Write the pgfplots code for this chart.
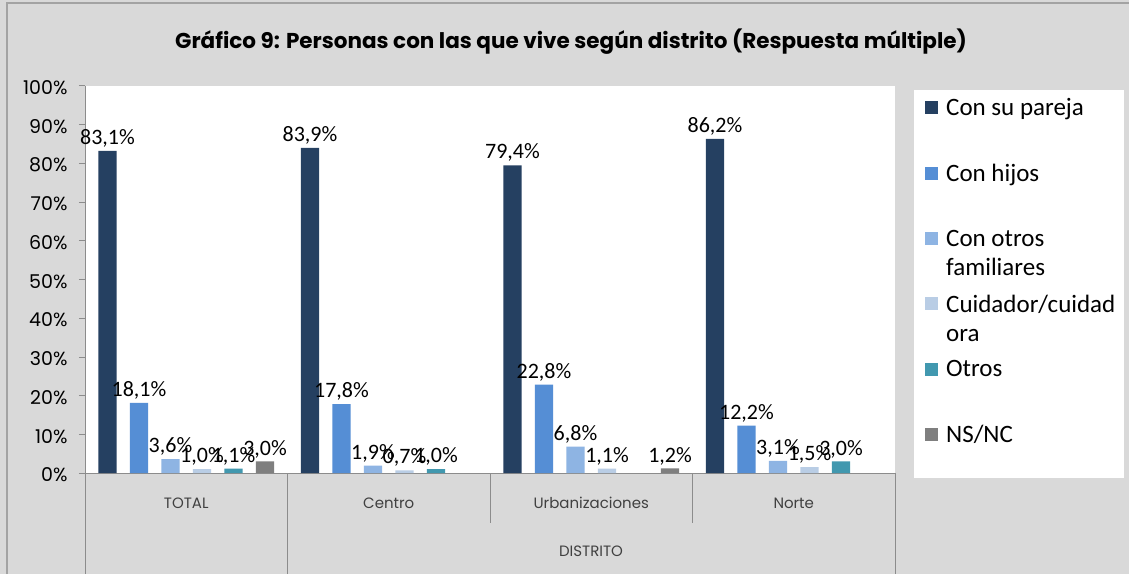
\documentclass[border=0pt]{standalone}
\usepackage{fontspec}
\setmainfont{Carlito}
\newfontfamily\gothic{Poppins}
\usepackage{pgfplots}
\pgfplotsset{compat=1.18}

\definecolor{cPareja}{HTML}{254061}
\definecolor{cHijos}{HTML}{558ED5}
\definecolor{cOtrosFam}{HTML}{8EB4E3}
\definecolor{cCuid}{HTML}{B9CDE5}
\definecolor{cOtros}{HTML}{4198AF}
\definecolor{cNSNC}{HTML}{7F7F7F}
\definecolor{bgGray}{HTML}{D9D9D9}
\definecolor{lnGray}{HTML}{8C8C8C}
\definecolor{txGray}{HTML}{404040}

% legend swatch: small square sitting on the baseline
\pgfplotsset{sq/.style={legend image code/.code={\fill[##1] (0pt,-6pt) rectangle (13pt,7pt);}}}
\newcommand{\legtxt}[1]{\parbox[t]{185pt}{#1}}

\begin{document}
\begin{tikzpicture}[x=1pt,y=1pt]
\useasboundingbox (0,0) rectangle (1129,-574);
\fill[bgGray] (0,0) rectangle (1129,-574);
\draw[lnGray!80, line width=1.2pt] (7,-574) -- (7,-3) -- (1129,-3);
\fill[white] (914,-90) rectangle (1124,-478);
\node[font=\gothic\bfseries\fontsize{21.5}{25}\selectfont] at (571,-42)
  {Gráfico 9: Personas con las que vive según distrito (Respuesta múltiple)};

\begin{axis}[
  at={(85pt,-473pt)}, anchor=south west,
  scale only axis, width=810pt, height=387.5pt,
  xmin=-0.5, xmax=3.5, ymin=0, ymax=100,
  axis background/.style={fill=white},
  axis x line*=bottom, axis y line*=left,
  axis line style={lnGray},
  clip=false,
  ytick={0,10,...,100},
  yticklabel={\pgfmathprintnumber{\tick}\%},
  yticklabel style={font=\gothic\fontsize{19}{22}\selectfont, text=black, xshift=-8pt, yshift=-2pt},
  /pgf/number format/assume math mode=true,
  tick align=outside, major tick length=6pt,
  ytick style={lnGray},
  xtick={0,1,2,3},
  xticklabels={TOTAL,Centro,Urbanizaciones,Norte},
  xtick style={draw=none},
  xticklabel style={font=\gothic\fontsize{15}{18}\selectfont, text=txGray, anchor=center, yshift=-24pt},
  ybar, bar width=0.091,
  nodes near coords={\pgfmathprintnumber[fixed,fixed zerofill,precision=1,use comma]{\pgfplotspointmeta}\%},
  every node near coord/.append style={font=\fontsize{22}{26}\selectfont, text=black},
  legend style={at={(1.037,0.972)}, anchor=north west, draw=none, fill=none,
    font=\fontsize{25}{29}\selectfont, row sep=43pt, inner sep=0pt,
    /tikz/every odd column/.append style={column sep=6pt}},
  legend cell align=left,
]
\addplot[sq, fill=cPareja, draw=none, bar shift=-0.389] coordinates
  {(0,83.1) (1,83.9) (2,79.4) (3,86.2)};
\addplot[sq, fill=cHijos, draw=none, bar shift=-0.2334] coordinates
  {(0,18.1) (1,17.8) (2,22.8) (3,12.2)};
\addplot[sq, fill=cOtrosFam, draw=none, bar shift=-0.0778] coordinates
  {(0,3.6) (1,1.9) (2,6.8) (3,3.1)};
\addplot[sq, fill=cCuid, draw=none, bar shift=0.0778] coordinates
  {(0,1.0) (1,0.7) (2,1.1) (3,1.5)};
\addplot[sq, fill=cOtros, draw=none, bar shift=0.2334] coordinates
  {(0,1.1) (1,1.0) (3,3.0)};
\addplot[sq, fill=cNSNC, draw=none, bar shift=0.389] coordinates
  {(0,3.0) (2,1.2)};
\addlegendentry{\legtxt{Con su pareja}}
\addlegendentry{\legtxt{Con hijos}}
\addlegendentry{\legtxt{Con otros\\familiares}}
\addlegendentry{\legtxt{Cuidador/cuidad\\ora}}
\addlegendentry{\legtxt{Otros}}
\addlegendentry{\legtxt{NS/NC}}
\end{axis}

% category separators of the two-level x axis
\draw[lnGray] (85,-473) -- (85,-574);
\draw[lnGray] (287.5,-473) -- (287.5,-574);
\draw[lnGray] (490,-473) -- (490,-523);
\draw[lnGray] (692.5,-473) -- (692.5,-523);
\draw[lnGray] (895,-473) -- (895,-574);
\node[font=\gothic\fontsize{15}{18}\selectfont, text=txGray] at (591,-551) {DISTRITO};
\end{tikzpicture}
\end{document}
